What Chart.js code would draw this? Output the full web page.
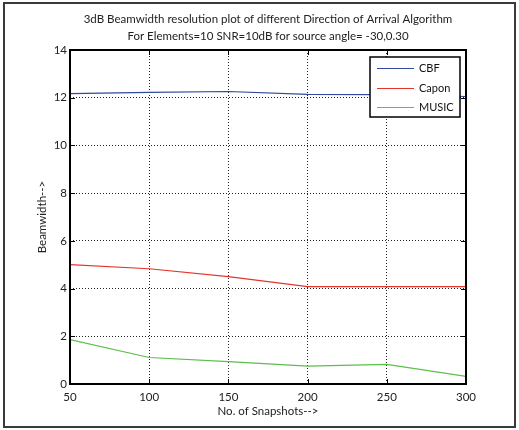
<!DOCTYPE html>
<html>
<head>
<meta charset="utf-8">
<script src="https://cdn.jsdelivr.net/npm/chart.js@4/dist/chart.umd.min.js"></script>
<style>
  body { margin: 0; background: #fff; }
  #wrap { width: 519px; height: 430px; }
</style>
</head>
<body>
<div id="wrap"><canvas id="doaChart" width="519" height="430"></canvas></div>
<script>
// values
const snapshots = [50, 100, 150, 200, 250, 300];
const cbf = [12.17, 12.22, 12.26, 12.14, 12.13, 12.05];
const capon = [5.0, 4.83, 4.5, 4.08, 4.08, 4.08];
const music = [1.86, 1.11, 0.94, 0.75, 0.82, 0.32];

const titleLines = [
	"3dB Beamwidth resolution plot of different Direction of Arrival Algorithm",
	"For Elements=10 SNR=10dB for source angle= -30,0.30"
];
const FONT = "Lato, 'Open Sans', sans-serif";

function toPoints(ys) {
	return snapshots.map((x, i) => ({ x: x, y: ys[i] }));
}

// title, axis titles, frame with inward ticks, legend box
const matlabLook = {
	id: 'matlabLook',
	afterDraw(chart) {
		const ctx = chart.ctx;
		const a = chart.chartArea;
		const xs = chart.scales.x, ys = chart.scales.y;
		const cx = (a.left + a.right) / 2;
		ctx.save();

		// outer figure border
		ctx.strokeStyle = '#3a3a3a';
		ctx.lineWidth = 2;
		ctx.strokeRect(4, 3, 511, 424);

		// text
		ctx.fillStyle = '#222';
		ctx.font = '11.5px ' + FONT;
		ctx.textAlign = 'center';
		ctx.textBaseline = 'middle';
		ctx.fillText(titleLines[0], cx, 19);
		ctx.fillText(titleLines[1], cx, 36);
		ctx.fillText('No. of Snapshots-->', cx, 411);
		ctx.save();
		ctx.translate(42, (a.top + a.bottom) / 2);
		ctx.rotate(-Math.PI / 2);
		ctx.fillText('Beamwidth-->', 0, 0);
		ctx.restore();

		// ticks pointing inward
		ctx.strokeStyle = '#000';
		ctx.lineWidth = 1;
		const tl = 5;
		ctx.beginPath();
		xs.ticks.forEach(t => {
			const px = Math.round(xs.getPixelForValue(t.value)) + 0.5;
			ctx.moveTo(px, a.bottom); ctx.lineTo(px, a.bottom - tl);
			ctx.moveTo(px, a.top); ctx.lineTo(px, a.top + tl);
		});
		ys.ticks.forEach(t => {
			const py = Math.round(ys.getPixelForValue(t.value)) + 0.5;
			ctx.moveTo(a.left, py); ctx.lineTo(a.left + tl, py);
			ctx.moveTo(a.right, py); ctx.lineTo(a.right - tl, py);
		});
		ctx.stroke();

		// frame
		ctx.lineWidth = 2;
		ctx.strokeRect(a.left, a.top, a.right - a.left, a.bottom - a.top);

		// legend
		const lx = 370, ly = 57, lw = 90, lh = 60;
		ctx.fillStyle = '#fff';
		ctx.fillRect(lx, ly, lw, lh);
		ctx.lineWidth = 1.5;
		ctx.strokeStyle = '#000';
		ctx.strokeRect(lx, ly, lw, lh);
		ctx.textAlign = 'left';
		ctx.font = '11px ' + FONT;
		chart.data.datasets.forEach((ds, i) => {
			const y = Math.round(ly + 11 + i * 19.5) + 0.5;
			ctx.strokeStyle = ds.borderColor;
			ctx.lineWidth = 1;
			ctx.beginPath();
			ctx.moveTo(lx + 7, y); ctx.lineTo(lx + 44, y);
			ctx.stroke();
			ctx.fillStyle = '#111';
			ctx.fillText(ds.label, lx + 49, y);
		});
		ctx.restore();
	}
};

new Chart(document.getElementById('doaChart'), {
	type: 'line',
	data: {
		datasets: [
			{ label: 'CBF', data: toPoints(cbf), borderColor: '#2f4a9e' },
			{ label: 'Capon', data: toPoints(capon), borderColor: '#e5352b' },
			{ label: 'MUSIC', data: toPoints(music), borderColor: '#5cbf4a' }
		]
	},
	options: {
		responsive: false,
		animation: false,
		layout: { padding: { top: 50, right: 53, left: 0, bottom: 0 } },
		elements: {
			line: { borderWidth: 1.2, tension: 0 },
			point: { radius: 0 }
		},
		plugins: {
			legend: { display: false },
			title: { display: false },
			tooltip: { enabled: false }
		},
		scales: {
			x: {
				type: 'linear',
				min: 50, max: 300,
				afterFit: s => { s.height = 46; },
				ticks: { stepSize: 50, color: '#222', padding: 6, font: { family: FONT, size: 11.5 }, maxRotation: 0 },
				grid: { color: '#222', lineWidth: 1, drawTicks: false },
				border: { display: false, dash: [1, 2] }
			},
			y: {
				min: 0, max: 14,
				afterFit: s => { s.width = 70; },
				ticks: { stepSize: 2, color: '#222', padding: 3, font: { family: FONT, size: 11.5 } },
				grid: { color: '#222', lineWidth: 1, drawTicks: false },
				border: { display: false, dash: [1, 2] }
			}
		}
	},
	plugins: [matlabLook]
});
</script>
</body>
</html>
